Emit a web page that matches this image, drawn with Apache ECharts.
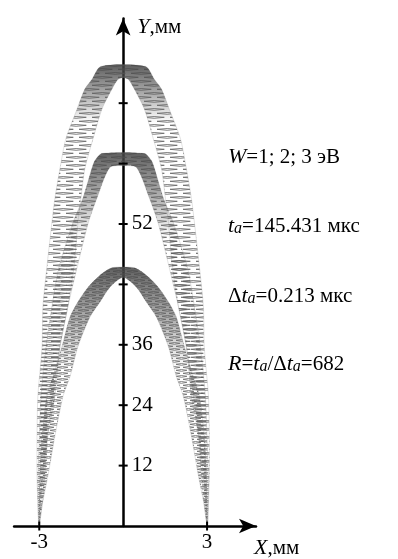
<!DOCTYPE html>
<html>
<head>
<meta charset="utf-8">
<script src="https://cdn.jsdelivr.net/npm/echarts@6/dist/echarts.min.js"></script>
<style>
  html, body { margin: 0; padding: 0; background: #fff; }
  #chart { width: 398px; height: 559px; }
</style>
</head>
<body>
<div id="chart"></div>
<script>
// Axis ticks (mm)
const yTickValues = [12, 24, 36, 48, 60, 72, 84];
const yTickLabels = ['12', '24', '36', '', '52', '', ''];
const xTickValues = [-3, 3];
const xTickLabels = ['-3', '3'];

// Trajectory bands, left half [x mm, y mm]; the right half is the mirror image.
// "Outer" edge runs from the landing point up to the apex,
// "inner" edge runs from the apex back down to the landing point.
const w3Outer = [[-3.01, 0], [-3.05, 4.1], [-3.08, 10.0], [-3.08, 17.9], [-3.05, 25.8], [-2.90, 35.6], [-2.87, 43.5], [-2.73, 51.3], [-2.55, 60.2], [-2.44, 65.1], [-2.26, 71.0], [-2.05, 76.9], [-1.65, 82.8], [-1.37, 86.8], [-1.12, 88.7], [-0.80, 91.3]];
const w3Inner = [[0, 89.1], [-0.19, 88.7], [-0.40, 86.8], [-0.76, 82.8], [-1.08, 76.9], [-1.37, 71.0], [-1.51, 65.1], [-1.62, 60.2], [-1.76, 51.3], [-1.98, 43.5], [-2.26, 35.6], [-2.44, 25.8], [-2.69, 17.9], [-2.80, 10.0], [-2.90, 4.1], [-3.01, 0]];

const w2Outer = [[-3.01, 0], [-3.05, 8.1], [-3.01, 15.9], [-2.94, 25.8], [-2.76, 35.6], [-2.55, 43.5], [-2.30, 51.3], [-1.80, 60.2], [-1.44, 65.1], [-1.12, 71.0], [-1.01, 72.6], [-0.76, 74.0]];
const w2Inner = [[0, 71.6], [-0.48, 71.2], [-0.94, 65.1], [-1.25, 60.2], [-1.65, 51.3], [-1.98, 43.5], [-2.26, 35.6], [-2.51, 25.8], [-2.76, 15.9], [-2.90, 8.1], [-3.01, 0]];

const w1Outer = [[-3.01, 0], [-2.98, 10.0], [-2.90, 17.9], [-2.73, 25.8], [-2.51, 29.7], [-2.19, 35.6], [-1.90, 41.5], [-1.62, 44.5], [-1.26, 47.4], [-0.83, 49.8], [-0.40, 51.3]];
const w1Inner = [[0, 49.4], [-0.48, 47.4], [-0.83, 44.5], [-1.19, 41.5], [-1.62, 35.6], [-1.90, 29.7], [-2.15, 25.8], [-2.44, 17.9], [-2.69, 10.0], [-2.90, 4.1], [-3.01, 0]];

// Height where the dense (dark) part near each apex fades out, mm
const apexShadeEnd = [80, 57, 31];

const SERIF = '"Liberation Serif", "DejaVu Serif", serif';

// Hatch of flattened, staggered loops: a helical path seen side-on
function loopPattern(loopW, rowH, color) {
  const c = document.createElement('canvas');
  c.width = loopW; c.height = rowH * 2;
  const g = c.getContext('2d');
  g.strokeStyle = color;
  g.lineWidth = 0.9;
  const len = loopW * 0.78;
  const drawLoop = (x0, y0) => {
    g.beginPath();
    g.moveTo(x0, y0 + 0.8);
    g.lineTo(x0 + len * 0.5, y0);
    g.lineTo(x0 + len, y0 + 0.8);
    g.lineTo(x0 + len * 0.5, y0 + 1.8);
    g.closePath();
    g.stroke();
  };
  drawLoop(1, 0.5);
  drawLoop(1 + loopW / 2, rowH + 0.5);
  drawLoop(1 - loopW / 2, rowH + 0.5);
  return c;
}

const bands = [
  { outer: w3Outer, inner: w3Inner, pattern: loopPattern(26, 4, 'rgba(95,95,95,0.85)') },
  { outer: w2Outer, inner: w2Inner, pattern: loopPattern(20, 4, 'rgba(95,95,95,0.85)') },
  { outer: w1Outer, inner: w1Inner, pattern: loopPattern(14, 3, 'rgba(100,100,100,0.85)') }
];

function mirror(pts) { return pts.map(p => [-p[0], p[1]]); }

// Closed outline of one band: left outer edge up, right outer edge down,
// right inner edge up, left inner edge down (shared points dropped).
function ring(b) {
  const leftOuter = b.outer;
  const rightOuter = mirror(b.outer.slice().reverse());
  const rightInner = mirror(b.inner.slice().reverse()).slice(1);
  const leftInner = b.inner.slice(1, -1);
  return leftOuter.concat(rightOuter, rightInner, leftInner);
}

const chart = echarts.init(document.getElementById('chart'), null, { renderer: 'canvas' });

const richItalic = { fontFamily: SERIF, fontSize: 22, fontStyle: 'italic', color: '#000' };
const richSub = { fontFamily: SERIF, fontSize: 16, fontStyle: 'italic', color: '#000', padding: [6, 0, 0, 0] };

const option = {
  animation: false,
  backgroundColor: '#fff',
  grid: { left: 14.1, right: 142, top: 18.6, bottom: 28, containLabel: false },
  xAxis: {
    type: 'value', min: -3.9, max: 4.75, interval: 0.3,
    splitLine: { show: false },
    axisTick: { show: false },
    axisLine: { lineStyle: { color: '#000', width: 2.5 }, symbol: ['none', 'arrow'], symbolSize: [11, 17] },
    axisLabel: {
      margin: 6, fontFamily: SERIF, fontSize: 21, color: '#000',
      formatter: v => {
        const i = xTickValues.findIndex(t => Math.abs(t - v) < 1e-6);
        return i >= 0 ? xTickLabels[i] : '';
      }
    },
    name: '{i|X},мм', nameLocation: 'end', nameGap: -2,
    nameTextStyle: {
      fontFamily: SERIF, fontSize: 21, color: '#000', align: 'left', verticalAlign: 'top', padding: [11, 0, 0, 0],
      rich: { i: richItalic }
    }
  },
  yAxis: {
    type: 'value', min: 0, max: 100.8, interval: 12,
    splitLine: { show: false },
    axisTick: { show: false },
    axisLabel: { show: false },
    axisLine: { onZero: true, lineStyle: { color: '#000', width: 2.5 }, symbol: ['none', 'arrow'], symbolSize: [11, 17] },
    name: '{i|Y},мм', nameLocation: 'end', nameGap: -9,
    nameTextStyle: {
      fontFamily: SERIF, fontSize: 21, color: '#000', align: 'left', verticalAlign: 'middle', padding: [0, 0, 0, 14],
      rich: { i: richItalic }
    }
  },
  series: [
    {
      type: 'custom',
      coordinateSystem: 'cartesian2d',
      silent: true,
      data: bands.map((b, i) => [0, b.outer[b.outer.length - 1][1], i]),
      encode: { x: 0, y: 1 },
      renderItem: (params, api) => {
        const b = bands[params.dataIndex];
        const pts = ring(b).map(p => api.coord(p));
        const top = b.outer[b.outer.length - 1][1];
        const yTop = api.coord([0, top])[1];
        const yEnd = api.coord([0, apexShadeEnd[params.dataIndex]])[1];
        return {
          type: 'group',
          children: [
            {
              type: 'polygon',
              shape: { points: pts, smooth: 0.25 },
              style: { fill: { image: b.pattern, repeat: 'repeat' }, stroke: 'rgba(120,120,120,0.35)', lineWidth: 0.6 }
            },
            {
              type: 'polygon',
              shape: { points: pts, smooth: 0.25 },
              style: {
                fill: new echarts.graphic.LinearGradient(0, yTop, 0, yEnd, [
                  { offset: 0, color: 'rgba(70,70,70,0.85)' },
                  { offset: 0.5, color: 'rgba(95,95,95,0.5)' },
                  { offset: 1, color: 'rgba(120,120,120,0)' }
                ], true)
              }
            }
          ]
        };
      },
      z: 1
    },
    {
      // tick marks crossing the Y axis, with their labels on the right
      type: 'scatter', silent: true, symbol: 'rect', symbolSize: [9, 2],
      itemStyle: { color: '#000', opacity: 1 },
      label: {
        show: true, position: 'right', distance: 4, opacity: 1,
        fontFamily: SERIF, fontSize: 21, color: '#000',
        formatter: p => yTickLabels[p.dataIndex]
      },
      data: yTickValues.map(v => [0, v]), z: 5
    },
    {
      // tick marks crossing the X axis
      type: 'scatter', silent: true, symbol: 'rect', symbolSize: [2, 9],
      itemStyle: { color: '#000', opacity: 1 },
      data: xTickValues.map(v => [v, 0]), z: 5
    }
  ],
  graphic: [
    {
      type: 'text', left: 228, top: 146,
      style: {
        text: '{i|W}=1; 2; 3 эВ',
        font: '21px ' + SERIF, fill: '#000',
        rich: { i: richItalic }
      }
    },
    {
      type: 'text', left: 228, top: 215,
      style: {
        text: '{i|t}{s|a}=145.431 мкс',
        font: '21px ' + SERIF, fill: '#000',
        rich: { i: richItalic, s: richSub }
      }
    },
    {
      type: 'text', left: 228, top: 285,
      style: {
        text: 'Δ{i|t}{s|a}=0.213 мкс',
        font: '21px ' + SERIF, fill: '#000',
        rich: { i: richItalic, s: richSub }
      }
    },
    {
      type: 'text', left: 228, top: 353,
      style: {
        text: '{i|R}={i|t}{s|a}/Δ{i|t}{s|a}=682',
        font: '21px ' + SERIF, fill: '#000',
        rich: { i: richItalic, s: richSub }
      }
    }
  ]
};

chart.setOption(option);
</script>
</body>
</html>
